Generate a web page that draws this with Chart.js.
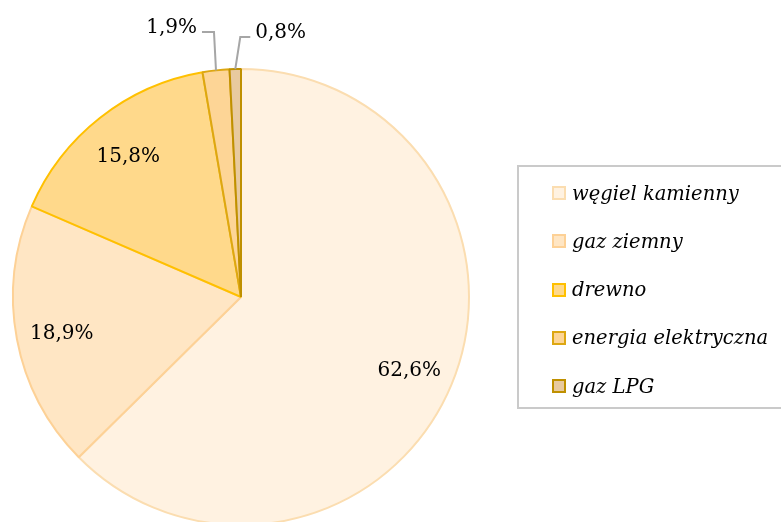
<!DOCTYPE html>
<html>
<head>
<meta charset="utf-8">
<script src="https://cdn.jsdelivr.net/npm/chart.js@4.4.1/dist/chart.umd.min.js"></script>
<style>
    html, body { margin: 0; padding: 0; background: #fff; overflow: hidden; }
    #wrap { position: relative; width: 781px; height: 522px; }
    #legend {
        position: absolute; left: 517px; top: 165px; width: 280px; height: 244px;
        border: 2px solid #cacaca; box-sizing: border-box;
        font-family: "DejaVu Serif", serif; font-style: italic; font-size: 19.5px; color: #000;
    }
    #legend .row { position: absolute; left: 33px; height: 24px; display: flex; align-items: center; white-space: nowrap; }
    #legend .box { width: 10px; height: 10px; border: 2px solid; margin-right: 6px; }
</style>
</head>
<body>
<div id="wrap">
    <canvas id="pie" width="781" height="522"></canvas>
    <div id="legend"></div>
</div>
<script>
document.addEventListener('DOMContentLoaded', () => {
    "use strict";

    // data
    const categories = ['węgiel kamienny', 'gaz ziemny', 'drewno', 'energia elektryczna', 'gaz LPG'];
    const shares = [62.6, 18.9, 15.8, 1.9, 0.8];

    const fills = ['#FFF2E1', '#FFE6C4', '#FFD98B', '#FDD596', '#E8CA9F'];
    const borders = ['#FBDDB0', '#FDD196', '#FFC000', '#DDA712', '#BF9000'];

    //Legend (html)
    const legend = document.getElementById('legend');
    categories.forEach((name, i) => {
        let row = document.createElement('div');
        row.className = 'row';
        row.style.top = (14 + i * 48.3) + 'px';
        row.innerHTML = '<span class="box" style="background:' + fills[i] + ';border-color:' + borders[i] + '"></span>' + name;
        legend.appendChild(row);
    });

    //Percent labels, small slices get a leader line
    const callouts = {
        3: { elbowDx: -2, y: 32, armDx: -12, side: 'right' },
        4: { elbowDx: 5, y: 37, armDx: 10, side: 'left' }
    };

    const pctLabels = {
        id: 'pctLabels',
        afterDatasetsDraw(chart) {
            const ctx = chart.ctx;
            const meta = chart.getDatasetMeta(0);
            ctx.save();
            ctx.font = '20px "DejaVu Serif"';
            ctx.fillStyle = '#000';
            ctx.textBaseline = 'middle';
            meta.data.forEach((arc, i) => {
                let text = shares[i].toFixed(1).replace('.', ',') + '%';
                let mid = (arc.startAngle + arc.endAngle) / 2;
                let c = callouts[i];
                if (!c) {
                    let r = arc.outerRadius * 0.8;
                    ctx.textAlign = 'center';
                    ctx.fillText(text, arc.x + r * Math.cos(mid), arc.y + r * Math.sin(mid) + 3);
                    return;
                }
                let ex = arc.x + arc.outerRadius * Math.cos(mid);
                let ey = arc.y + arc.outerRadius * Math.sin(mid);
                let bx = ex + c.elbowDx;
                let tx = bx + c.armDx;
                ctx.strokeStyle = '#A6A6A6';
                ctx.lineWidth = 2;
                ctx.beginPath();
                ctx.moveTo(ex, ey);
                ctx.lineTo(bx, c.y);
                ctx.lineTo(tx, c.y);
                ctx.stroke();
                ctx.textAlign = c.side;
                ctx.fillText(text, tx + (c.side == 'left' ? 5 : -5), c.y - 4);
            });
            ctx.restore();
        }
    };

    const ctxPie = document.getElementById('pie').getContext('2d');
    const pieChart = new Chart(ctxPie, {
        type: 'pie',
        data: {
            labels: categories,
            datasets: [{
                data: shares,
                backgroundColor: fills,
                borderColor: borders,
                borderWidth: 2
            }]
        },
        options: {
            responsive: false,
            animation: false,
            devicePixelRatio: 1,
            radius: 228,
            layout: { padding: { left: 0, right: 299, top: 72, bottom: 0 } },
            plugins: {
                legend: { display: false },
                tooltip: { enabled: false }
            }
        },
        plugins: [pctLabels]
    });
});
</script>
</body>
</html>
